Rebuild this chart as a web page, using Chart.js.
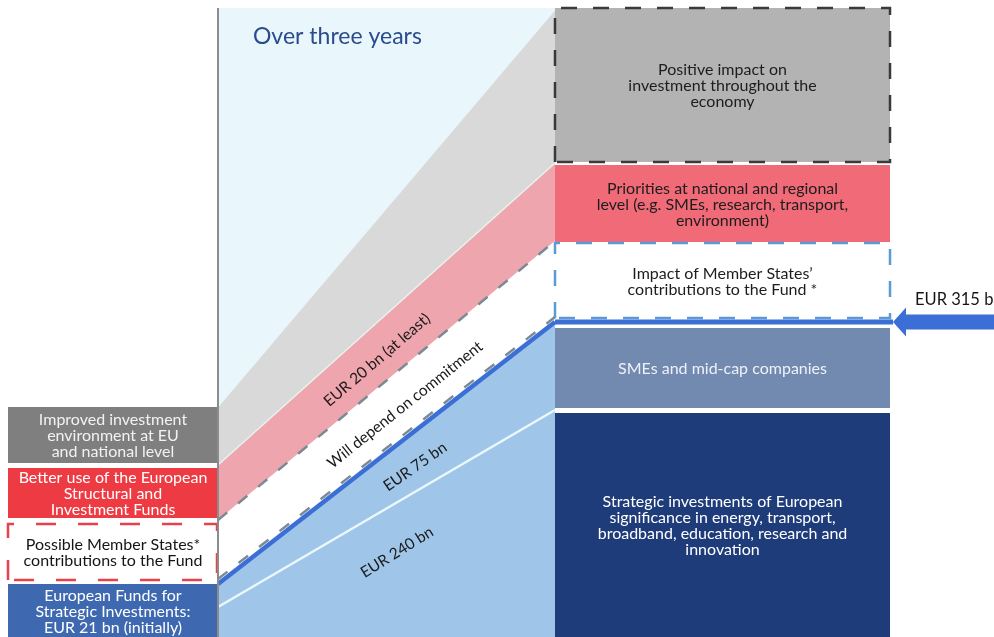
<!DOCTYPE html>
<html>
<head>
<meta charset="utf-8">
<script src="https://cdn.jsdelivr.net/npm/chart.js@4.4.1/dist/chart.umd.min.js"></script>
<style>
  html, body { margin: 0; padding: 0; background: #fff; }
  #contenedor { width: 994px; height: 637px; position: relative; }
</style>
</head>
<body>
<div id="contenedor"><canvas id="graficoFondo"></canvas></div>
<script>
// Cortes en x: inicio columna izquierda, inicio del abanico, fin del abanico, fin columna derecha
const cortes = [8, 218, 555, 890];
const techoPanel = 629;

// Tramos del abanico (de abajo hacia arriba): grosor al inicio y al final
const tramoEtiquetas = ['EUR 240 bn', 'EUR 75 bn', 'Will depend on commitment', 'EUR 20 bn (at least)', ''];
const tramoInicio = [30, 23, 64, 55, 58];
const tramoFinal = [227, 88, 81, 78, 153];

// Cajas de la columna izquierda (de abajo hacia arriba)
const izqEtiquetas = [
  ['European Funds for', 'Strategic Investments:', 'EUR 21 bn (initially)'],
  ['Possible Member States*', 'contributions to the Fund'],
  ['Better use of the European', 'Structural and', 'Investment Funds'],
  ['Improved investment', 'environment at EU', 'and national level']
];
const izqDesde = [0, 57, 119, 174];
const izqHasta = [53, 113, 169, 230];

// Cajas de la columna derecha (de abajo hacia arriba)
const derEtiquetas = [
  ['Strategic investments of European', 'significance in energy, transport,', 'broadband, education, research and', 'innovation'],
  ['SMEs and mid-cap companies'],
  ['Impact of Member States\u2019', 'contributions to the Fund *'],
  ['Priorities at national and regional', 'level (e.g. SMEs, research, transport,', 'environment)'],
  ['Positive impact on', 'investment throughout the', 'economy']
];
const derDesde = [0, 229, 319, 395, 475];
const derHasta = [224, 309, 394, 472, 629];

const titulo = 'Over three years';
const etiquetaTotal = 'EUR 315 bn';

// Estilos
const FUENTE = 'Lato, "Open Sans", sans-serif';
const tramoRelleno = ['#9fc5e8', '#9fc5e8', '#ffffff', '#efa5ad', '#d9d9d9'];
const tramoBorde = ['#eaf8fc', '#3b6fd6', '#7b8a94', '#e6f5ee', '#eaf7fb'];
const tramoGrosor = [2.5, 4.5, 2.5, 1.5, 1];
const tramoGuion = [[], [], [12, 14], [], []];
const tramoA = [0.531, 0.585, 0.555, 0.472];   // posición a lo largo del abanico
const tramoB = [0.63, 0.41, 0.46, 0.43];       // posición dentro del tramo
const tramoAngulo = [-32, -35, -38.5, -40.5];

const izqRelleno = ['#3e69b1', '#ffffff', '#ee3a43', '#7f7f7f'];
const izqBorde = [null, '#e8414b', null, null];
const izqGuion = [[], [20, 22], [], []];
const izqTexto = ['#ffffff', '#151515', '#ffffff', '#f2f2f2'];

const derRelleno = ['#1f3c7a', '#7289b0', '#ffffff', '#f06a78', '#b3b3b3'];
const derBorde = [null, null, '#5b9bd5', null, '#3a3a3a'];
const derGuion = [[], [], [16, 16], [], [16, 16]];
const derTexto = ['#ffffff', '#eef2f8', '#1d1d1d', '#1d1d1d', '#1d1d1d'];
const azul = '#3b6fd6';

// Límites acumulados de cada tramo
function acumular(arr) { let s = 0; return arr.map(v => s += v); }
const bordeInicio = acumular(tramoInicio);
const bordeFinal = acumular(tramoFinal);

// Rectángulo cerrado como una línea con relleno 'shape'
function caja(x0, x1, lo, hi, relleno, borde, guion, orden) {
  return {
    data: [{x: x0, y: lo}, {x: x0, y: hi}, {x: x1, y: hi}, {x: x1, y: lo}, {x: x0, y: lo}],
    backgroundColor: relleno,
    borderColor: borde || 'rgba(0,0,0,0)',
    borderWidth: borde ? 2.5 : 0,
    borderDash: guion,
    borderJoinStyle: 'miter',
    fill: 'shape',
    order: orden
  };
}

const datasets = [];

// Tramos del abanico (índices 0..4, cada uno rellena hasta el anterior)
tramoRelleno.forEach((color, i) => {
  datasets.push({
    data: [{x: cortes[1], y: bordeInicio[i]}, {x: cortes[2], y: bordeFinal[i]}],
    backgroundColor: color,
    borderColor: tramoBorde[i],
    borderWidth: tramoGrosor[i],
    borderDash: tramoGuion[i],
    fill: i === 0 ? 'origin' : '-1',
    order: 5
  });
});

// Guiones grises sobre la línea azul
datasets.push({
  data: [{x: cortes[1], y: bordeInicio[1] + 5}, {x: cortes[2], y: bordeFinal[1] + 5}],
  borderColor: '#7b8a94', borderWidth: 2.5, borderDash: [12, 14], fill: false, order: 1
});

// Fondo del panel
datasets.push({
  data: [{x: cortes[1], y: techoPanel}, {x: cortes[2], y: techoPanel}],
  backgroundColor: '#e9f6fb', borderWidth: 0, fill: 'origin', order: 9
});

// Cajas
izqRelleno.forEach((c, i) => datasets.push(caja(cortes[0], cortes[1] - 1, izqDesde[i], izqHasta[i], c, izqBorde[i], izqGuion[i], 3)));
derRelleno.forEach((c, i) => datasets.push(caja(cortes[2], cortes[3], derDesde[i], derHasta[i], c, derBorde[i], derGuion[i], 3)));

// Línea vertical que separa la columna izquierda
datasets.push({
  data: [{x: cortes[1], y: 0}, {x: cortes[1], y: techoPanel}],
  borderColor: '#8c8c8c', borderWidth: 2, fill: false, order: 1
});

// Línea azul del total sobre la columna derecha
datasets.push({
  data: [{x: cortes[2], y: bordeFinal[1]}, {x: cortes[3] + 3, y: bordeFinal[1]}],
  borderColor: azul, borderWidth: 5, fill: false, order: 1
});

// Textos, etiquetas giradas y flecha
const textos = {
  id: 'textos',
  afterDatasetsDraw(chart) {
    const {ctx, scales: {x, y}} = chart;
    ctx.save();
    ctx.textAlign = 'center';
    ctx.textBaseline = 'middle';

    const escribirCaja = (lineas, x0, x1, lo, hi, color) => {
      const cx = (x.getPixelForValue(x0) + x.getPixelForValue(x1)) / 2;
      const cy = (y.getPixelForValue(lo) + y.getPixelForValue(hi)) / 2;
      ctx.fillStyle = color;
      ctx.font = '16px ' + FUENTE;
      lineas.forEach((l, k) => ctx.fillText(l, cx, cy + 1 + (k - (lineas.length - 1) / 2) * 16));
    };
    izqEtiquetas.forEach((l, i) => escribirCaja(l, cortes[0], cortes[1], izqDesde[i], izqHasta[i], izqTexto[i]));
    derEtiquetas.forEach((l, i) => escribirCaja(l, cortes[2], cortes[3], derDesde[i], derHasta[i], derTexto[i]));

    // Etiquetas a lo largo de los tramos
    ctx.font = '15.5px ' + FUENTE;
    ctx.fillStyle = '#1a1a1a';
    tramoEtiquetas.forEach((txt, i) => {
      if (!txt) return;
      const t = tramoA[i];
      const lo = i ? bordeInicio[i - 1] + t * (bordeFinal[i - 1] - bordeInicio[i - 1]) : 0;
      const hi = bordeInicio[i] + t * (bordeFinal[i] - bordeInicio[i]);
      const vx = cortes[1] + t * (cortes[2] - cortes[1]);
      const vy = lo + tramoB[i] * (hi - lo);
      ctx.save();
      ctx.translate(x.getPixelForValue(vx), y.getPixelForValue(vy));
      ctx.rotate(tramoAngulo[i] * Math.PI / 180);
      ctx.fillText(txt, 0, 0);
      ctx.restore();
    });

    // Título del panel
    ctx.textAlign = 'left';
    ctx.fillStyle = '#2a4b8d';
    ctx.font = '23px ' + FUENTE;
    ctx.fillText(titulo, x.getPixelForValue(cortes[1]) + 35, y.getPixelForValue(techoPanel) + 29);

    // Flecha del total
    const py = y.getPixelForValue(bordeFinal[1]);
    const punta = x.getPixelForValue(cortes[3]) + 3;
    ctx.fillStyle = azul;
    ctx.beginPath();
    ctx.moveTo(punta, py);
    ctx.lineTo(punta + 13, py - 14.5);
    ctx.lineTo(punta + 13, py - 7.5);
    ctx.lineTo(chart.width, py - 7.5);
    ctx.lineTo(chart.width, py + 7.5);
    ctx.lineTo(punta + 13, py + 7.5);
    ctx.lineTo(punta + 13, py + 14.5);
    ctx.closePath();
    ctx.fill();

    ctx.fillStyle = '#151515';
    ctx.font = '16.5px ' + FUENTE;
    ctx.fillText(etiquetaTotal, punta + 22, py - 22);
    ctx.restore();
  }
};

new Chart(document.getElementById('graficoFondo'), {
  type: 'line',
  data: { datasets },
  options: {
    responsive: true,
    maintainAspectRatio: false,
    animation: false,
    events: [],
    layout: { padding: 0, autoPadding: false },
    elements: { point: { radius: 0 }, line: { tension: 0 } },
    scales: {
      x: { type: 'linear', min: 0, max: 994, display: false },
      y: { type: 'linear', min: 0, max: 637, display: false }
    },
    plugins: { legend: { display: false }, tooltip: { enabled: false } }
  },
  plugins: [textos]
});
</script>
</body>
</html>
